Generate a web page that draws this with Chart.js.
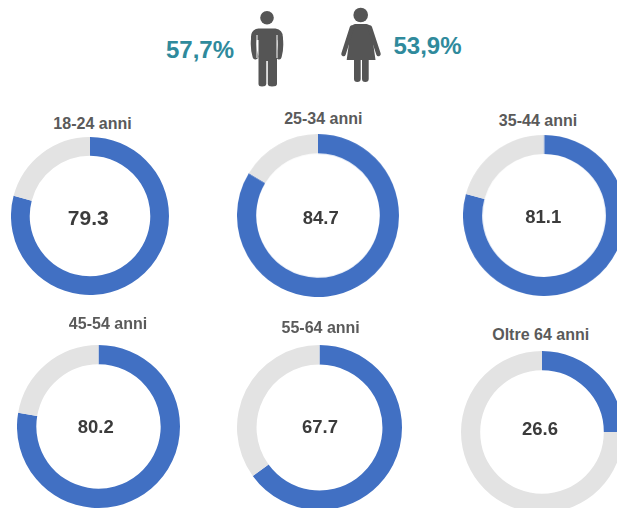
<!DOCTYPE html>
<html>
<head>
<meta charset="utf-8">
<title>Donut</title>
<script src="https://cdn.jsdelivr.net/npm/chart.js@4/dist/chart.umd.min.js"></script>
<style>
    html, body { margin: 0; padding: 0; width: 617px; height: 508px; overflow: hidden; background: #fff; }
    body { position: relative; font-family: "Liberation Sans", Arial, sans-serif; font-weight: bold; }
    canvas { position: absolute; }
    .lbl { position: absolute; transform: translate(-50%, -50%); white-space: nowrap; line-height: 1; }
    .title { font-size: 16px; color: #5a5a5a; }
    .center { font-size: 18.5px; color: #3b3b3b; }
    .pct { font-size: 24px; color: #2f8a9c; }
    svg { position: absolute; left: 0; top: 0; }
</style>
</head>
<body>
<svg width="617" height="508" fill="#555" stroke="none">
    <!-- uomo -->
    <circle cx="267" cy="17.700" r="6.800"/>
    <path d="M258.500 28.500 H275.500 Q282.800 29.500 282.800 37 V40 H277 V84 Q277 86.500 272 86.500 Q268 86.500 267.800 84 V61 H266.300 V84 Q266 86.500 262 86.500 Q258.500 86.500 258.500 84 V40 H251 V37 Q251 29.500 258.500 28.500 Z"/>
    <path d="M254 38 Q252.800 48 255.500 56.500 M280 38 Q281.200 48 278.800 56.500" fill="none" stroke="#555" stroke-width="5.800" stroke-linecap="round"/>
    <path d="M257 35 V58 M277 35 V58" fill="none" stroke="#fff" stroke-width="1"/>
    <!-- donna -->
    <circle cx="360.700" cy="15" r="7.300"/>
    <path d="M355 24 H366.500 Q370 24.500 371 28 L375.500 60 H368.700 V79 Q368.700 82 365.300 82 Q362 82 362 79 V60 H360.700 V79 Q360.700 82 357.300 82 Q354 82 354 79 V60 H346.700 L351 28 Q352 24.500 355 24 Z"/>
    <path d="M352 27.500 L343.500 54 M369.800 27.500 L378.500 54" fill="none" stroke="#555" stroke-width="4.500" stroke-linecap="round"/>
</svg>
<div class="lbl pct" style="left:200px;top:49.500px">57,7%</div>
<div class="lbl pct" style="left:427.500px;top:46px">53,9%</div>
<script>
// Dati
const categories = ['18-24 anni', '25-34 anni', '35-44 anni', '45-54 anni', '55-64 anni', 'Oltre 64 anni'];
const valueLabels = ['79.3', '84.7', '81.1', '80.2', '67.7', '26.6'];
// Ampiezza dell'arco blu (non sempre uguale all'etichetta)
const arcValues = [79.1, 83.7, 79.3, 77.7, 65, 25];
const restValues = [20.9, 16.3, 20.7, 22.3, 35, 75];

// Posizione di ogni ciambella: cx, cy, raggio, title x, title y, center x, center y
const layout = [
    [89.5, 216, 79, 92.5, 124, 88.3, 217.3],
    [318, 215.5, 81.2, 323.3, 119, 320.7, 218],
    [544, 215.5, 80.6, 538, 121, 543.3, 217.3],
    [98.5, 426.7, 81.7, 108, 324.3, 95.7, 427.3],
    [319.8, 427.5, 82.5, 320.7, 328, 320, 427],
    [542, 432, 81, 540.7, 335, 540, 429.3]
];

function addLabel(cls, text, x, y) {
    const el = document.createElement('div');
    el.className = 'lbl ' + cls;
    el.textContent = text;
    el.style.left = x + 'px';
    el.style.top = y + 'px';
    document.body.appendChild(el);
    return el;
}

categories.forEach((cat, i) => {
    const [cx, cy, r, tx, ty, vx, vy] = layout[i];
    const canvas = document.createElement('canvas');
    canvas.style.left = (cx - r) + 'px';
    canvas.style.top = (cy - r) + 'px';
    canvas.style.width = (r * 2) + 'px';
    canvas.style.height = (r * 2) + 'px';
    canvas.width = r * 2;
    canvas.height = r * 2;
    document.body.appendChild(canvas);

    new Chart(canvas.getContext('2d'), {
        type: 'doughnut',
        data: {
            labels: [cat, 'Resto'],
            datasets: [{
                data: [arcValues[i], restValues[i]],
                backgroundColor: ['#4170c3', '#e3e3e3'],
                borderWidth: 0
            }]
        },
        options: {
            responsive: false,
            animation: false,
            cutout: '76.300%',
            plugins: { legend: { display: false }, tooltip: { enabled: false } }
        }
    });

    addLabel('title', cat, tx, ty);
    const center = addLabel('center', valueLabels[i], vx, vy);
    if (i === 0) center.style.fontSize = '21px';
});
</script>
</body>
</html>
